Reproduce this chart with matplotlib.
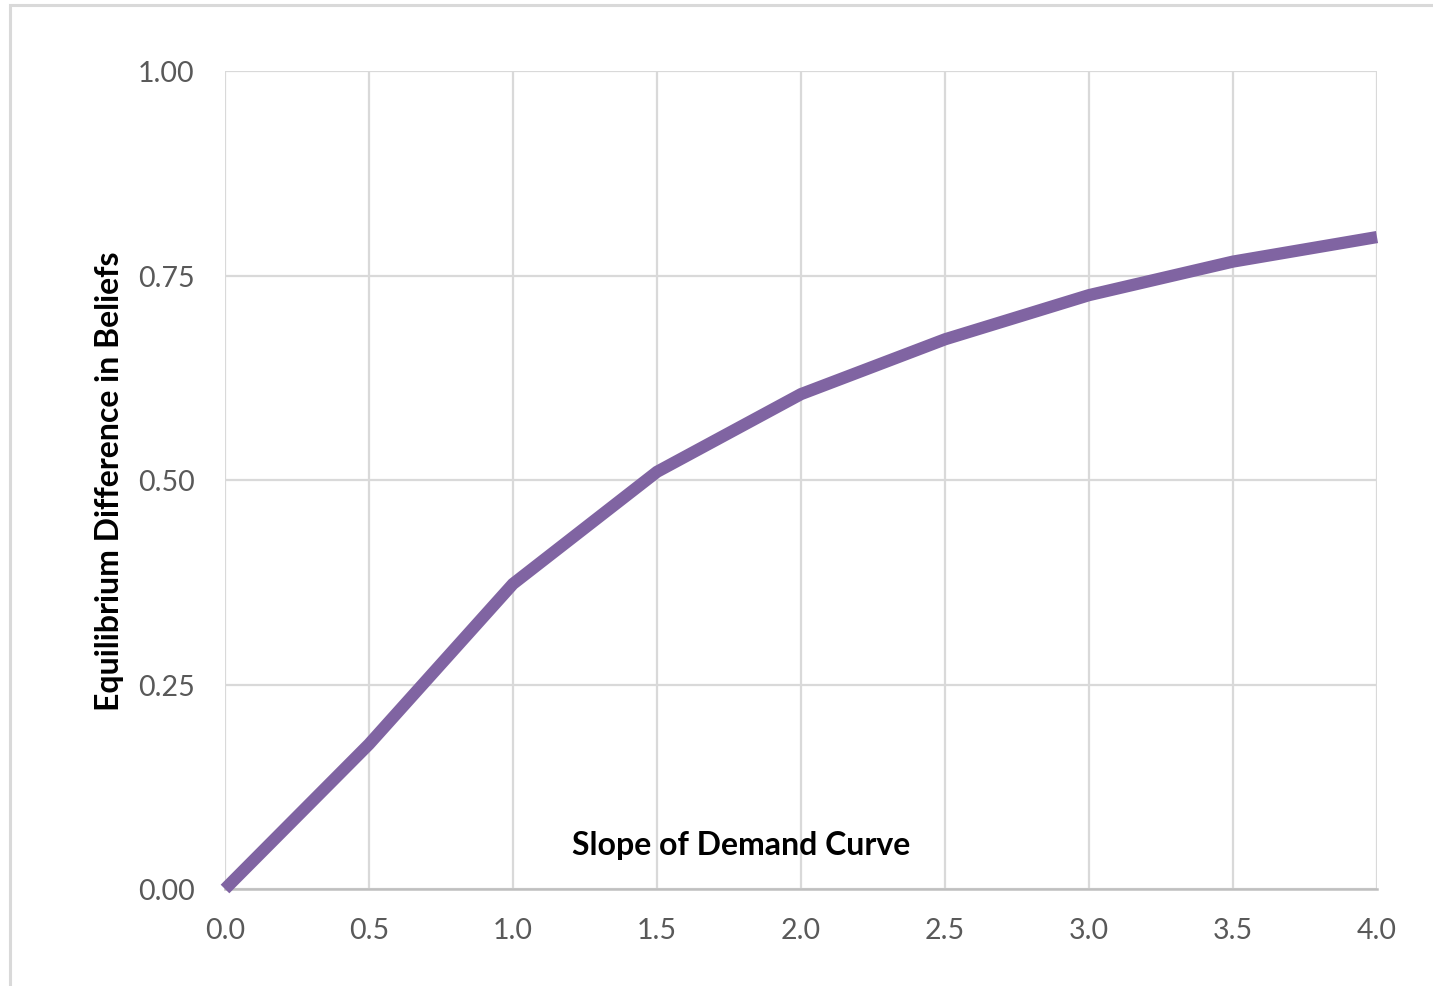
import matplotlib
matplotlib.use("Agg")
import matplotlib.pyplot as plt
from matplotlib.patches import Rectangle

slope = [0.0, 0.5, 1.0, 1.5, 2.0, 2.5, 3.0, 3.5, 4.0]
diff_beliefs = [0.0, 0.177, 0.373, 0.510, 0.605, 0.672, 0.726, 0.767, 0.797]
x_ticks = [0.0, 0.5, 1.0, 1.5, 2.0, 2.5, 3.0, 3.5, 4.0]
y_ticks = [0.0, 0.25, 0.5, 0.75, 1.0]

plt.rcParams['font.family'] = ['Lato', 'DejaVu Sans']

W, H = 1433, 987
fig = plt.figure(figsize=(W / 100, H / 100), dpi=100)
fig.patch.set_facecolor('white')

# outer chart border
fig.patches.append(Rectangle((10 / W, -0.1), 1.2, 1 - 6 / H + 0.1, transform=fig.transFigure,
                             fill=False, edgecolor='#d9d9d9', linewidth=2.2, zorder=0))

ax = fig.add_axes([225 / W, 97 / H, (1377 - 225) / W, (890 - 72) / H])
ax.plot(slope, diff_beliefs, color='#8064a2', linewidth=8.8, solid_capstyle='butt',
        solid_joinstyle='miter', clip_on=False, zorder=3)

ax.set_xlim(0, 4)
ax.set_ylim(0, 1)
ax.set_xticks(x_ticks)
ax.set_yticks(y_ticks)
ax.set_xticklabels([f"{v:.1f}" for v in x_ticks])
ax.set_yticklabels([f"{v:.2f}" for v in y_ticks])
ax.tick_params(axis='both', length=0, labelsize=20.5, colors='#595959')
ax.tick_params(axis='x', pad=20)
ax.tick_params(axis='y', pad=22)

ax.grid(True, color='#d9d9d9', linewidth=1.6)
ax.set_axisbelow(True)
for side in ['top', 'right', 'left']:
    ax.spines[side].set_visible(False)
ax.spines['bottom'].set_color('#bfbfbf')
ax.spines['bottom'].set_linewidth(1.8)

ax.text((741 - 225) / (1377 - 225), (890 - 846) / (890 - 72), 'Slope of Demand Curve',
        transform=ax.transAxes, ha='center', va='center', fontsize=23, fontweight='bold',
        color='black')
fig.text(110 / W, 1 - 481 / H, 'Equilibrium Difference in Beliefs', rotation=90,
         ha='center', va='center', fontsize=23, fontweight='bold', color='black')

fig.savefig('out.png', dpi=100)
